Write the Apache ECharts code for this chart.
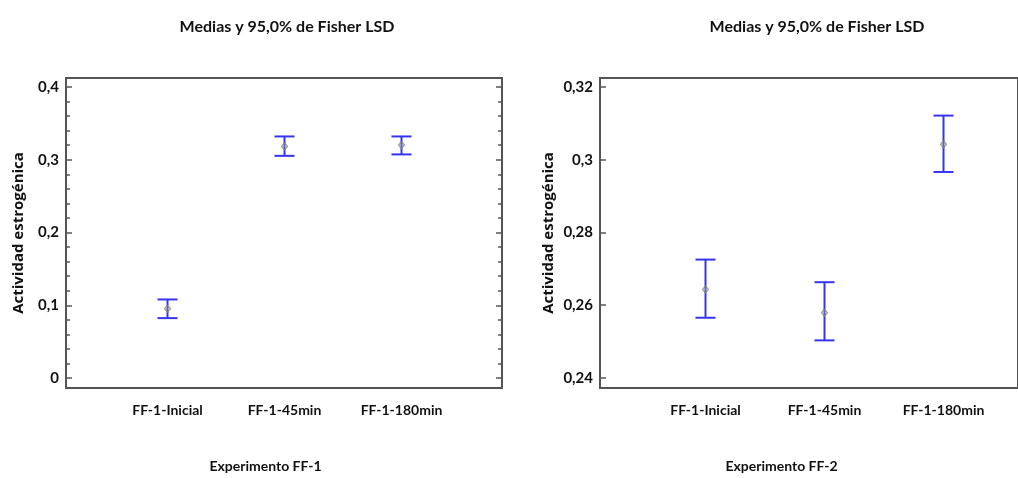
<!DOCTYPE html>
<html>
<head>
<meta charset="utf-8">
<script src="https://cdn.jsdelivr.net/npm/echarts@6/dist/echarts.min.js"></script>
<style>html,body{margin:0;padding:0;background:#fff}#c{width:1018px;height:478px}</style>
</head>
<body>
<div id="c"></div>
<script>
const categories = ['FF-1-Inicial', 'FF-1-45min', 'FF-1-180min'];
const ff1Mean  = [0.091, 0.317, 0.319];
const ff1Lower = [0.078, 0.304, 0.306];
const ff1Upper = [0.104, 0.331, 0.331];
const ff2Mean  = [0.2636, 0.2571, 0.3040];
const ff2Lower = [0.2557, 0.2494, 0.2963];
const ff2Upper = [0.2719, 0.2656, 0.3120];
const ff1Ticks = [0, 0.1, 0.2, 0.3, 0.4];
const ff1MinorTicks = [0.02, 0.04, 0.06, 0.08, 0.12, 0.14, 0.16, 0.18, 0.22, 0.24, 0.26, 0.28, 0.32, 0.34, 0.36, 0.38];
const ff2Ticks = [0.24, 0.26, 0.28, 0.3, 0.32];
const titleText = 'Medias y 95,0% de Fisher LSD';
const yName = 'Actividad estrogénica';
const xName1 = 'Experimento FF-1';
const xName2 = 'Experimento FF-2';

const FONT = "Lato, 'Liberation Sans Narrow', 'DejaVu Sans Condensed', sans-serif";
const TXT = '#111111';
const BAR = '#3535f0';
const FRAME = '#555555';

const ff1Range = { min: -0.01375, max: 0.4124 };
const ff2Range = { min: 0.23725, max: 0.32247 };

function fmt(v) { return String(Math.round(v * 100) / 100).replace('.', ','); }

function errRender(params, api) {
  const x = api.value(0);
  const lo = api.coord([x, api.value(1)]);
  const hi = api.coord([x, api.value(2)]);
  const w = 10;
  const style = { stroke: BAR, lineWidth: 2, fill: null };
  return {
    type: 'group',
    children: [
      { type: 'line', shape: { x1: lo[0], y1: lo[1], x2: hi[0], y2: hi[1] }, style: style },
      { type: 'line', shape: { x1: lo[0] - w, y1: lo[1], x2: lo[0] + w, y2: lo[1] }, style: style },
      { type: 'line', shape: { x1: hi[0] - w, y1: hi[1], x2: hi[0] + w, y2: hi[1] }, style: style }
    ]
  };
}

function catAxis(gridIndex, name, namePadRight) {
  return {
    type: 'category', gridIndex: gridIndex, data: categories, boundaryGap: true,
    axisLine: { show: false }, axisTick: { show: false }, splitLine: { show: false },
    axisLabel: { interval: 0, margin: 19, color: TXT, fontFamily: FONT, fontWeight: 'bold', fontSize: 14 },
    name: name, nameLocation: 'middle', nameGap: 75,
    nameTextStyle: { color: TXT, fontFamily: FONT, fontWeight: 'bold', fontSize: 14, padding: [0, namePadRight, 0, 0] }
  };
}
function hiddenY(gridIndex, range) {
  return { type: 'value', gridIndex: gridIndex, min: range.min, max: range.max, show: false, splitLine: { show: false } };
}
function tickAxis(gridIndex, range, position, ticks, len, labels, name, nameGap) {
  const ax = {
    type: 'value', gridIndex: gridIndex, position: position, min: range.min, max: range.max,
    axisLine: { show: false }, splitLine: { show: false },
    axisTick: { show: true, inside: true, length: len, customValues: ticks, lineStyle: { color: FRAME, width: 1.5 } },
    axisLabel: labels ? { show: true, customValues: ticks, formatter: fmt, margin: 7, color: TXT, fontFamily: FONT, fontWeight: 'bold', fontSize: 15 } : { show: false }
  };
  if (name) {
    ax.name = name; ax.nameLocation = 'middle'; ax.nameGap = nameGap;
    ax.nameTextStyle = { color: TXT, fontFamily: "'Open Sans', sans-serif", fontWeight: 'bold', fontSize: 15 };
  }
  return ax;
}

const chart = echarts.init(document.getElementById('c'), null, { renderer: 'canvas' });
chart.setOption({
  animation: false,
  backgroundColor: '#ffffff',
  title: [
    { text: titleText, left: 282, top: 14, textAlign: 'center', textStyle: { fontFamily: FONT, fontWeight: 'bold', fontSize: 16, color: TXT } },
    { text: titleText, left: 812, top: 14, textAlign: 'center', textStyle: { fontFamily: FONT, fontWeight: 'bold', fontSize: 16, color: TXT } }
  ],
  grid: [
    { left: 109, top: 78, width: 351, height: 310 },
    { left: 66, top: 78, width: 436, height: 310, show: true, borderColor: FRAME, borderWidth: 2, backgroundColor: 'transparent' },
    { left: 646, top: 78, width: 357, height: 310 },
    { left: 600, top: 78, width: 440, height: 310, show: true, borderColor: FRAME, borderWidth: 2, backgroundColor: 'transparent' }
  ],
  xAxis: [
    catAxis(0, xName1, 38),
    { type: 'value', gridIndex: 1, min: 0, max: 1, show: false },
    catAxis(2, xName2, 86),
    { type: 'value', gridIndex: 3, min: 0, max: 1, show: false }
  ],
  yAxis: [
    hiddenY(0, ff1Range),
    tickAxis(1, ff1Range, 'left', ff1Ticks, 6, true, yName, 40),
    tickAxis(1, ff1Range, 'left', ff1MinorTicks, 4, false),
    tickAxis(1, ff1Range, 'right', ff1Ticks, 6, false),
    tickAxis(1, ff1Range, 'right', ff1MinorTicks, 4, false),
    hiddenY(2, ff2Range),
    tickAxis(3, ff2Range, 'left', ff2Ticks, 6, true, yName, 44)
  ],
  series: [
    { type: 'custom', xAxisIndex: 0, yAxisIndex: 0, renderItem: errRender, data: categories.map((c, i) => [i, ff1Lower[i], ff1Upper[i]]), z: 2 },
    { type: 'scatter', xAxisIndex: 0, yAxisIndex: 0, data: ff1Mean, symbol: 'diamond', symbolSize: [6, 7],
      itemStyle: { color: 'rgba(200,200,170,0.3)', borderColor: '#85856a', borderWidth: 1.2 }, z: 3 },
    { type: 'custom', xAxisIndex: 2, yAxisIndex: 5, renderItem: errRender, data: categories.map((c, i) => [i, ff2Lower[i], ff2Upper[i]]), z: 2 },
    { type: 'scatter', xAxisIndex: 2, yAxisIndex: 5, data: ff2Mean, symbol: 'diamond', symbolSize: [6, 7],
      itemStyle: { color: 'rgba(200,200,170,0.3)', borderColor: '#85856a', borderWidth: 1.2 }, z: 3 }
  ]
});
</script>
</body>
</html>
